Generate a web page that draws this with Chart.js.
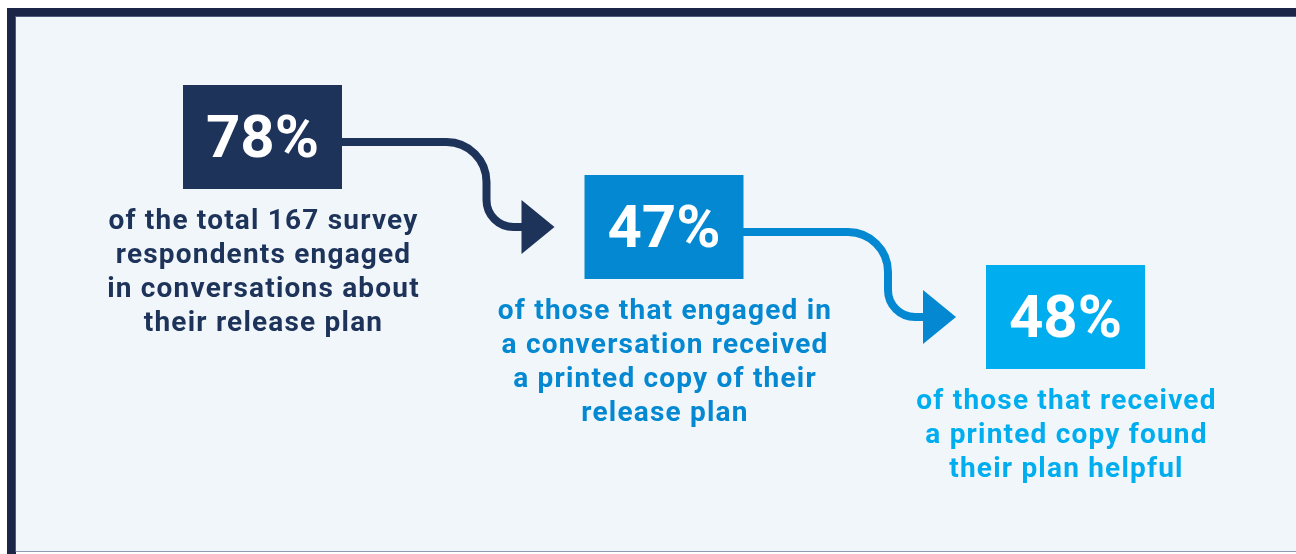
<!DOCTYPE html>
<html>
<head>
<meta charset="utf-8">
<title>Release plan survey</title>
<script src="https://cdn.jsdelivr.net/npm/chart.js@4/dist/chart.umd.min.js"></script>
<style>
  html, body { margin: 0; padding: 0; background: #ffffff; }
  #wrap { width: 1296px; height: 554px; position: relative; }
</style>
</head>
<body>
<div id="wrap"><canvas id="chart"></canvas></div>
<script>
// survey funnel: each step is a share of the step before it
const steps = ['Engaged in conversations', 'Received a printed copy', 'Found plan helpful'];
const percents = [78, 47, 48];
const stepLevel = [0, 1, 2];
const captions = [
    ['of the total 167 survey', 'respondents engaged', 'in conversations about', 'their release plan'],
    ['of those that engaged in', 'a conversation received', 'a printed copy of their', 'release plan'],
    ['of those that received', 'a printed copy found', 'their plan helpful']
];

const colors = ['#1d3359', '#0388d1', '#00aeef'];
const BOX_W = 159, BOX_H = 104;

// background panel with the dark frame on top and left
const framePlugin = {
    id: 'frame',
    beforeDraw(chart) {
        const ctx = chart.ctx;
        const w = chart.width, h = chart.height;
        ctx.save();
        ctx.fillStyle = '#ffffff';
        ctx.fillRect(0, 0, w, h);
        ctx.fillStyle = '#1b2547';
        ctx.fillRect(7, 8, w - 7, h - 8);
        ctx.fillStyle = '#4e5b7e';
        ctx.fillRect(15, 16, w - 15, 536);
        ctx.fillStyle = '#f1f6fb';
        ctx.fillRect(16, 17, w - 16, 534);
        ctx.fillStyle = '#8e9ab3';
        ctx.fillRect(16, 551, w - 16, 1);
        ctx.fillStyle = '#ffffff';
        ctx.fillRect(16, 552, w - 16, 2);
        ctx.restore();
    }
};

// boxes, captions and the connectors between steps
const funnelPlugin = {
    id: 'funnel',
    afterDatasetsDraw(chart) {
        const ctx = chart.ctx;
        const pts = chart.getDatasetMeta(0).data;
        ctx.save();

        // connectors first so they sit under the boxes
        for (let i = 0; i < pts.length - 1; i++) {
            const cur = pts[i], next = pts[i + 1];
            const x0 = cur.x + BOX_W / 2;
            const y0 = cur.y + 5;
            const y1 = next.y;
            const tip = next.x - BOX_W / 2 - 30;
            const headLen = 33, headHalf = 27;
            const vx = tip - 68;
            ctx.strokeStyle = colors[i];
            ctx.fillStyle = colors[i];
            ctx.lineWidth = 8;
            ctx.beginPath();
            ctx.moveTo(x0 - 1, y0);
            ctx.arcTo(vx, y0, vx, y1, 40);
            ctx.arcTo(vx, y1, tip - headLen, y1, 27);
            ctx.lineTo(tip - headLen + 2, y1);
            ctx.stroke();
            ctx.beginPath();
            ctx.moveTo(tip - headLen, y1 - headHalf);
            ctx.lineTo(tip, y1);
            ctx.lineTo(tip - headLen, y1 + headHalf);
            ctx.closePath();
            ctx.fill();
        }

        pts.forEach((pt, i) => {
            ctx.fillStyle = colors[i];
            ctx.fillRect(pt.x - BOX_W / 2, pt.y - BOX_H / 2, BOX_W, BOX_H);

            ctx.textAlign = 'center';
            ctx.textBaseline = 'alphabetic';
            ctx.fillStyle = '#ffffff';
            ctx.font = '700 60px Roboto';
            ctx.letterSpacing = '0px';
            ctx.fillText(percents[i] + '%', pt.x, pt.y + 20);

            ctx.fillStyle = colors[i];
            ctx.font = '700 28px Roboto';
            ctx.letterSpacing = '1.2px';
            captions[i].forEach((line, j) => {
                ctx.fillText(line, pt.x + 1, pt.y + BOX_H / 2 + 40 + j * 34);
            });
        });
        ctx.restore();
    }
};

new Chart(document.getElementById('chart'), {
    type: 'scatter',
    data: {
        labels: steps,
        datasets: [{
            label: 'Share',
            data: stepLevel.map((lvl, i) => ({ x: i, y: lvl, v: percents[i] })),
            pointRadius: 0,
            pointHoverRadius: 0
        }]
    },
    options: {
        responsive: true,
        maintainAspectRatio: false,
        animation: false,
        events: [],
        layout: { padding: { left: 262.5, right: 230.5, top: 137, bottom: 237 } },
        scales: {
            x: { type: 'linear', display: false, min: 0, max: 2 },
            y: { type: 'linear', display: false, min: 0, max: 2, reverse: true }
        },
        plugins: {
            legend: { display: false },
            tooltip: { enabled: false }
        }
    },
    plugins: [framePlugin, funnelPlugin]
});
</script>
</body>
</html>
